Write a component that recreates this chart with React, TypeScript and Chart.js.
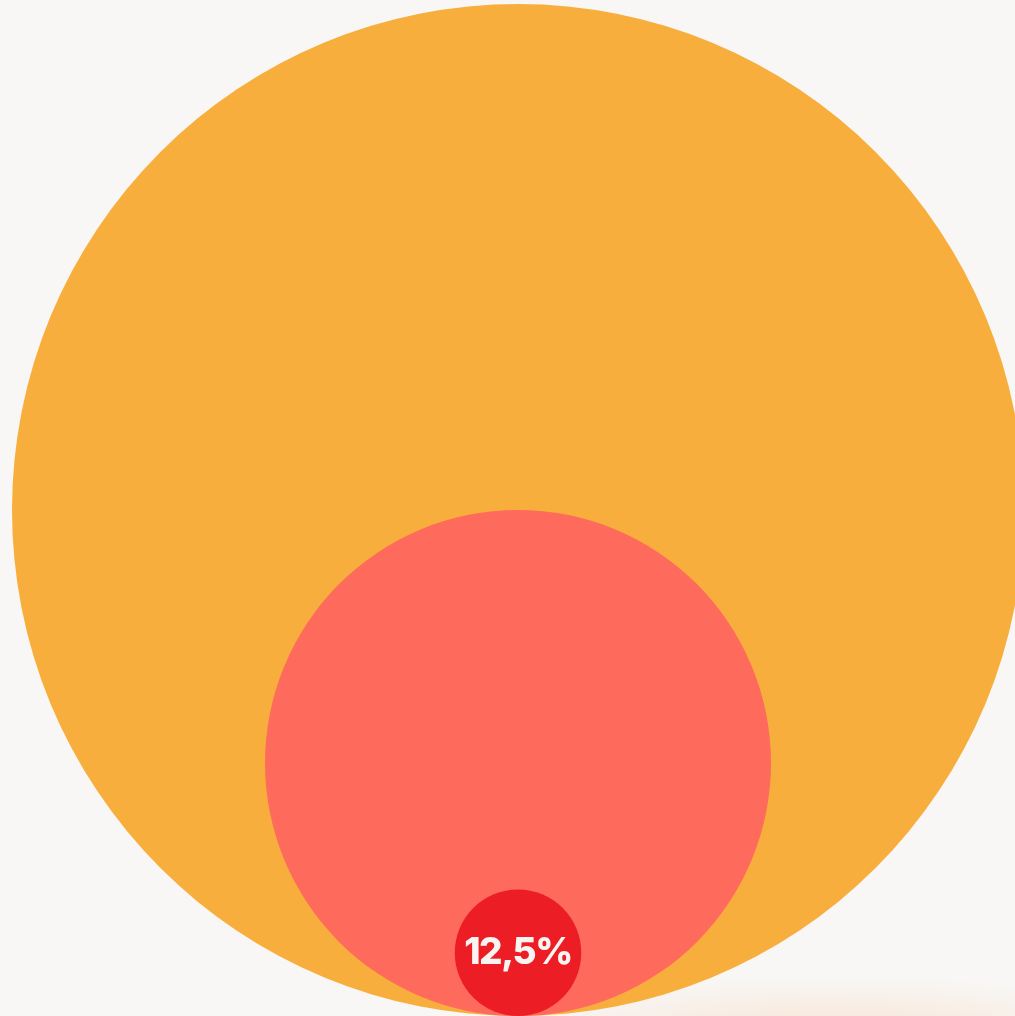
import React, { useEffect, useRef } from "react";
import { Chart, registerables } from "chart.js";

Chart.register(...registerables);

// Shares (percent of outer circle radius), drawn from largest to smallest
const shares: number[] = [100, 50, 12.5];
const labels: string[] = ["", "", "12,5%"];
const colors: string[] = ["#F8AE3C", "#FE6A5C", "#EC1D24"];

const BG = "#F8F7F5";
const W = 1015;
const H = 1016;

export default function App() {
  const ref = useRef<HTMLCanvasElement | null>(null);

  useEffect(() => {
    if (!ref.current) return;

    const bgPlugin = {
      id: "bg",
      beforeDraw(chart: any) {
        const { ctx, width, height } = chart;
        ctx.save();
        ctx.fillStyle = BG;
        ctx.fillRect(0, 0, width, height);
        // faint warm glow near the bottom edge
        ctx.translate(830, height + 20);
        ctx.scale(1, 0.18);
        const g = ctx.createRadialGradient(0, 0, 0, 0, 0, 340);
        g.addColorStop(0, "rgba(246,200,165,0.4)");
        g.addColorStop(1, "rgba(246,200,165,0)");
        ctx.fillStyle = g;
        ctx.beginPath();
        ctx.arc(0, 0, 340, 0, Math.PI * 2);
        ctx.fill();
        ctx.restore();
      },
    };

    const labelPlugin = {
      id: "labels",
      afterDatasetsDraw(chart: any) {
        const meta = chart.getDatasetMeta(0);
        const ctx = chart.ctx;
        ctx.save();
        ctx.fillStyle = "#F7F4F1";
        ctx.font = "800 37px Inter, 'Open Sans', sans-serif";
        (ctx as any).letterSpacing = "-1.5px";
        ctx.textAlign = "center";
        ctx.textBaseline = "middle";
        meta.data.forEach((el: any, i: number) => {
          if (!labels[i]) return;
          ctx.fillText(labels[i], el.x, el.y);
        });
        ctx.restore();
      },
    };

    // y axis: 0..100 units span the outer circle's diameter (top at ~4px)
    const yMax = 100 * (H / 1012);
    const unitPx = H / yMax;
    const xMin = -518 / unitPx;
    const xMax = (W - 518) / unitPx;

    const chart = new Chart(ref.current, {
      type: "bubble",
      data: {
        datasets: [
          {
            // circles tangent at the bottom: centre at v/2, radius v/2 (in y units -> px)
            data: shares.map((v) => ({ x: 0, y: v / 2, r: (v / 2) * unitPx })),
            backgroundColor: colors,
            hoverBackgroundColor: colors,
            borderWidth: 0,
            hoverBorderWidth: 0,
          } as any,
        ],
      },
      options: {
        animation: false,
        responsive: true,
        maintainAspectRatio: false,
        layout: { padding: 0, autoPadding: false } as any,
        events: [],
        plugins: {
          legend: { display: false },
          tooltip: { enabled: false },
        },
        scales: {
          x: { type: "linear", min: xMin, max: xMax, display: false },
          y: { type: "linear", min: 0, max: yMax, display: false },
        },
        clip: false as any,
      },
      plugins: [bgPlugin, labelPlugin],
    });

    return () => chart.destroy();
  }, []);

  return (
    <div
      style={{
        position: "fixed",
        left: 0,
        top: 0,
        width: W,
        height: H,
        background: BG,
      }}
    >
      <canvas ref={ref} />
    </div>
  );
}
